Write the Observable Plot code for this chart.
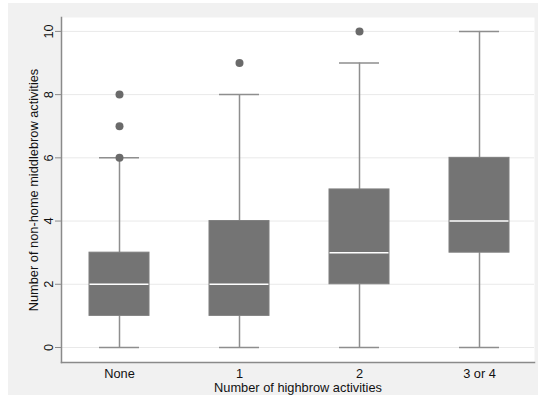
<!DOCTYPE html>
<html>
<head>
<meta charset="utf-8">
<script src="https://cdn.jsdelivr.net/npm/d3@7"></script>
<script src="https://cdn.jsdelivr.net/npm/@observablehq/plot@0.6"></script>
<style>
  html, body { margin: 0; padding: 0; background: #ffffff; }
  #chart { position: absolute; left: 8px; top: 3px; }
  #chart svg { background: #f1f1f1; display: block; }
</style>
</head>
<body>
<div id="chart"></div>
<script>
// Box-plot summaries per number of highbrow activities
const groups = ["None", "1", "2", "3 or 4"];
const lowerWhisker = [0, 0, 0, 0];
const q1 = [1, 1, 2, 3];
const medians = [2, 2, 3, 4];
const q3 = [3, 4, 5, 6];
const upperWhisker = [6, 8, 9, 10];

// Outlying observations
const outlierGroup = ["None", "None", "None", "1", "2"];
const outlierValue = [6, 7, 8, 9, 10];

const yTicks = [0, 2, 4, 6, 8, 10];
const xTitle = "Number of highbrow activities";
const yTitle = "Number of non-home middlebrow activities";

const boxes = groups.map((g, i) => ({
  group: g, lo: lowerWhisker[i], q1: q1[i], median: medians[i], q3: q3[i], hi: upperWhisker[i]
}));
const outliers = outlierGroup.map((g, i) => ({group: g, value: outlierValue[i]}));

const whiskerColor = "#8e8e8e";
const boxColor = "#747474";
const textColor = "#111111";
const fs = 12.8;

const chart = Plot.plot({
  width: 530,
  height: 392,
  marginLeft: 53,
  marginRight: 4,
  marginTop: 14,
  marginBottom: 33,
  style: {fontFamily: "'Liberation Sans', Arial, sans-serif", fontSize: fs + "px", color: textColor, background: "#f1f1f1"},
  x: {type: "band", domain: groups, padding: 0, insetLeft: -3, insetRight: -5, label: null},
  y: {domain: [-0.475, 10.44], label: null},
  marks: [
    Plot.frame({fill: "#ffffff", stroke: null}),
    Plot.gridY(yTicks, {stroke: "#e9e9e9", strokeOpacity: 1, strokeWidth: 1}),
    Plot.frame({anchor: "left", stroke: "#8a8a8a", strokeWidth: 1.5}),
    Plot.frame({anchor: "bottom", stroke: "#8a8a8a", strokeWidth: 1.5}),
    Plot.axisY(yTicks, {tickSize: 6, tickPadding: 0, tickFormat: () => "", stroke: "#8a8a8a"}),
    Plot.text(yTicks, {y: d => d, text: d => String(d), frameAnchor: "left", dx: -13, rotate: -90, textAnchor: "middle", lineAnchor: "middle", fontSize: fs, fill: textColor}),
    Plot.axisX({tickSize: 0, tickPadding: 6, fontSize: fs, fill: textColor}),
    Plot.text([xTitle], {frameAnchor: "bottom", dy: 25, text: d => d, textAnchor: "middle", lineAnchor: "middle", fontSize: fs, fill: textColor}),
    Plot.text([yTitle], {frameAnchor: "left", dx: -28, rotate: -90, text: d => d, textAnchor: "middle", lineAnchor: "middle", fontSize: fs, fill: textColor}),
    // whiskers
    Plot.ruleX(boxes, {x: "group", y1: "lo", y2: "q1", stroke: whiskerColor, strokeWidth: 1.5}),
    Plot.ruleX(boxes, {x: "group", y1: "q3", y2: "hi", stroke: whiskerColor, strokeWidth: 1.5}),
    Plot.tickY(boxes, {x: "group", y: "lo", stroke: whiskerColor, strokeWidth: 1.5, insetLeft: 40, insetRight: 40}),
    Plot.tickY(boxes, {x: "group", y: "hi", stroke: whiskerColor, strokeWidth: 1.5, insetLeft: 40, insetRight: 40}),
    // boxes
    Plot.barY(boxes, {x: "group", y1: "q1", y2: "q3", fill: boxColor, stroke: "#7e7e7e", strokeWidth: 1, insetLeft: 30, insetRight: 30}),
    Plot.tickY(boxes, {x: "group", y: "median", stroke: "#ffffff", strokeWidth: 1.5, insetLeft: 30.5, insetRight: 30.5}),
    // outliers
    Plot.dot(outliers, {x: "group", y: "value", r: 4, fill: "#6a6a6a", stroke: null})
  ]
});

document.getElementById("chart").appendChild(chart);
</script>
</body>
</html>
